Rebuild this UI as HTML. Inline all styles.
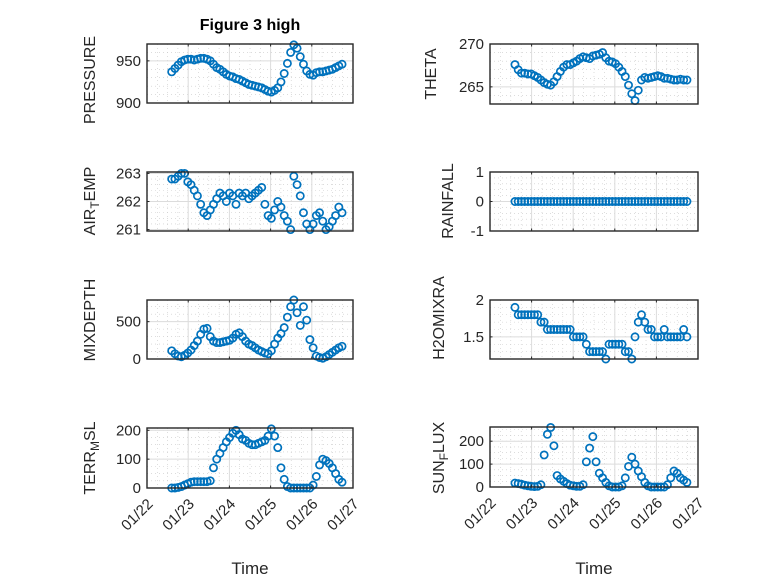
<!DOCTYPE html>
<html><head><meta charset="utf-8"><style>
body{margin:0;background:#fff;}
svg{display:block;font-family:"Liberation Sans","DejaVu Sans",sans-serif;}
</style></head><body>
<svg id="fig" width="778" height="583" viewBox="0 0 778 583">
<rect width="778" height="583" fill="#fff"/>
<text x="250" y="30" text-anchor="middle" font-size="16" font-weight="bold" fill="#000">Figure 3 high</text>
</svg>
<script>
const pressure=[937,941,945,949,951,952,952,951,952,953,953,952,950,946,942,940,937,934,932,931,929,928,926,924,922,921,920,919,918,916,914,913,915,918,925,935,947,960,969,965,955,946,938,934,933,936,937,937,938,939,940,942,944,946];
const theta=[267.6,267.0,266.6,266.6,266.5,266.5,266.3,266.1,265.8,265.5,265.3,265.2,265.6,266.2,266.8,267.3,267.6,267.6,267.8,268.0,268.3,268.5,268.4,268.3,268.6,268.7,268.8,269.0,268.4,268.0,267.9,267.7,267.3,266.8,266.2,265.2,264.2,263.4,264.6,265.8,266.1,266.0,266.1,266.2,266.3,266.2,266.0,266.0,265.9,265.8,265.8,265.9,265.8,265.8];
const airTemp=[262.8,262.8,262.9,263.0,263.0,262.7,262.6,262.4,262.2,261.9,261.6,261.5,261.7,261.9,262.1,262.3,262.2,262.0,262.3,262.2,261.9,262.3,262.2,262.3,262.1,262.2,262.3,262.4,262.5,261.9,261.5,261.4,261.7,262.0,261.8,261.5,261.3,261.0,262.9,262.6,262.2,261.6,261.2,261.0,261.2,261.5,261.6,261.3,261.0,261.1,261.3,261.5,261.8,261.6];
const rainfall=[0,0,0,0,0,0,0,0,0,0,0,0,0,0,0,0,0,0,0,0,0,0,0,0,0,0,0,0,0,0,0,0,0,0,0,0,0,0,0,0,0,0,0,0,0,0,0,0,0,0,0,0,0,0];
const mixDepth=[110,70,40,30,50,80,120,180,240,330,400,410,300,240,220,220,230,240,250,280,330,350,300,240,200,180,150,120,100,80,70,110,200,280,340,420,560,700,790,620,450,700,520,260,150,40,20,10,30,60,90,120,150,170];
const h2oMix=[1.9,1.8,1.8,1.8,1.8,1.8,1.8,1.8,1.7,1.7,1.6,1.6,1.6,1.6,1.6,1.6,1.6,1.6,1.5,1.5,1.5,1.5,1.4,1.3,1.3,1.3,1.3,1.3,1.2,1.4,1.4,1.4,1.4,1.4,1.3,1.3,1.2,1.5,1.7,1.8,1.7,1.6,1.6,1.5,1.5,1.5,1.6,1.5,1.5,1.5,1.5,1.5,1.6,1.5];
const terrMsl=[0,0,2,5,10,15,20,22,22,22,22,22,25,70,100,120,140,160,175,190,200,185,170,165,155,150,150,155,160,165,180,205,180,140,70,30,5,0,0,0,0,0,0,0,10,40,80,100,95,85,70,50,30,20];
const sunFlux=[17,15,12,8,5,3,2,3,10,140,230,260,180,50,35,25,15,8,5,3,3,10,110,170,220,110,60,40,20,5,0,0,0,5,40,90,130,100,70,45,20,5,0,0,0,0,0,10,40,70,60,40,30,20];
const xTickLabels=["01/22","01/23","01/24","01/25","01/26","01/27"];
const tStart=0.6, tStep=0.078;

const NS="http://www.w3.org/2000/svg";
const svg=document.getElementById('fig');
function mk(tag,attrs,parent){const e=document.createElementNS(NS,tag);for(const k in attrs)e.setAttribute(k,attrs[k]);(parent||svg).appendChild(e);return e;}

const panels=[
 {name:'pressure',data:pressure,x0:147,x1:353,y0:44,y1:103,min:900,max:970,ticks:[900,950],minor:10,label:['PRESSURE'],lx:95,ly:80},
 {name:'theta',data:theta,x0:490,x1:698,y0:44,y1:104,min:263,max:270,ticks:[265,270],minor:1,label:['THETA'],lx:436,ly:74},
 {name:'air-temp',data:airTemp,x0:147,x1:353,y0:172,y1:231,min:260.95,max:263.05,ticks:[261,262,263],minor:0.2,label:['AIR','T','EMP'],lx:95,ly:201},
 {name:'rainfall',data:rainfall,x0:490,x1:698,y0:172,y1:231,min:-1,max:1,ticks:[-1,0,1],minor:0.2,label:['RAINFALL'],lx:453,ly:201},
 {name:'mix-depth',data:mixDepth,x0:147,x1:353,y0:300,y1:359,min:0,max:790,ticks:[0,500],minor:100,label:['MIXDEPTH'],lx:95,ly:320},
 {name:'h2o-mix-ratio',data:h2oMix,x0:490,x1:698,y0:300,y1:359,min:1.2,max:2.0,ticks:[1.5,2],minor:0.1,label:['H2OMIXRA'],lx:444,ly:318},
 {name:'terr-msl',data:terrMsl,x0:147,x1:353,y0:428,y1:488,min:0,max:208,ticks:[0,100,200],minor:25,label:['TERR','M','SL'],lx:95,ly:458,bottom:true},
 {name:'sun-flux',data:sunFlux,x0:490,x1:698,y0:427,y1:487,min:0,max:262,ticks:[0,100,200],minor:25,label:['SUN','F','LUX'],lx:444,ly:458,bottom:true}
];

panels.forEach(p=>{
 const g=mk('g',{});
 
 
 const xs=d=>p.x0+(p.x1-p.x0)*d/5;
 const ys=v=>p.y1-(p.y1-p.y0)*(v-p.min)/(p.max-p.min);
 mk('rect',{x:p.x0,y:p.y0,width:p.x1-p.x0,height:p.y1-p.y0,fill:'#fff'},g);
 for(let d=0;d<=5.001;d+=0.25){mk('line',{x1:xs(d),x2:xs(d),y1:p.y0,y2:p.y1,stroke:'#c8c8c8','stroke-width':0.6,'stroke-dasharray':'1 3'},g);}
 const s=Math.ceil(p.min/p.minor-1e-6)*p.minor;
 for(let v=s;v<=p.max+1e-9;v+=p.minor){mk('line',{x1:p.x0,x2:p.x1,y1:ys(v),y2:ys(v),stroke:'#c8c8c8','stroke-width':0.6,'stroke-dasharray':'1 3'},g);}
 for(let d=1;d<5;d++){mk('line',{x1:xs(d),x2:xs(d),y1:p.y0,y2:p.y1,stroke:'#dcdcdc','stroke-width':1},g);}
 p.ticks.forEach(v=>{mk('line',{x1:p.x0,x2:p.x1,y1:ys(v),y2:ys(v),stroke:'#dcdcdc','stroke-width':1},g);});
 p.data.forEach((v,i)=>{
  const c=mk('circle',{cx:xs(tStart+i*tStep),cy:ys(v),r:3.6,fill:'none',stroke:'#0072BD','stroke-width':1.7},g);
  
  
 });
 mk('rect',{x:p.x0,y:p.y0,width:p.x1-p.x0,height:p.y1-p.y0,fill:'none',stroke:'#262626','stroke-width':1.4},g);
 for(let d=0;d<=5;d++){mk('line',{x1:xs(d),x2:xs(d),y1:p.y1,y2:p.y1-2.5,stroke:'#262626'},g);mk('line',{x1:xs(d),x2:xs(d),y1:p.y0,y2:p.y0+2.5,stroke:'#262626'},g);}
 p.ticks.forEach(v=>{
  mk('line',{x1:p.x0,x2:p.x0+2.5,y1:ys(v),y2:ys(v),stroke:'#262626'},g);
  const t=mk('text',{x:p.x0-6,y:ys(v)+5,'text-anchor':'end','font-size':15,fill:'#262626'},g);
  t.textContent=String(v);
  
  
 });
 const yl=mk('text',{x:p.lx,y:p.ly,'text-anchor':'middle','font-size':16,fill:'#262626',transform:`rotate(-90 ${p.lx} ${p.ly})`},g);
 
 
 if(p.label.length===1){yl.textContent=p.label[0];}
 else{
  const a=mk('tspan',{},yl);a.textContent=p.label[0];
  const b=mk('tspan',{dy:4,'font-size':12},yl);b.textContent=p.label[1];
  const c=mk('tspan',{dy:-4},yl);c.textContent=p.label[2];
 }
 if(p.bottom){
  xTickLabels.forEach((lab,d)=>{
   const x=xs(d),y=p.y1+14;
   const t=mk('text',{x:x+4,y:y+4,'text-anchor':'end','font-size':15,fill:'#262626',transform:`rotate(-45 ${x+4} ${y})`},g);
   t.textContent=lab;
   
   
  });
  const xt=mk('text',{x:(p.x0+p.x1)/2,y:574,'text-anchor':'middle','font-size':17,fill:'#262626'},g);
  xt.textContent='Time';
  
  
 }
});
</script>
</body></html>
